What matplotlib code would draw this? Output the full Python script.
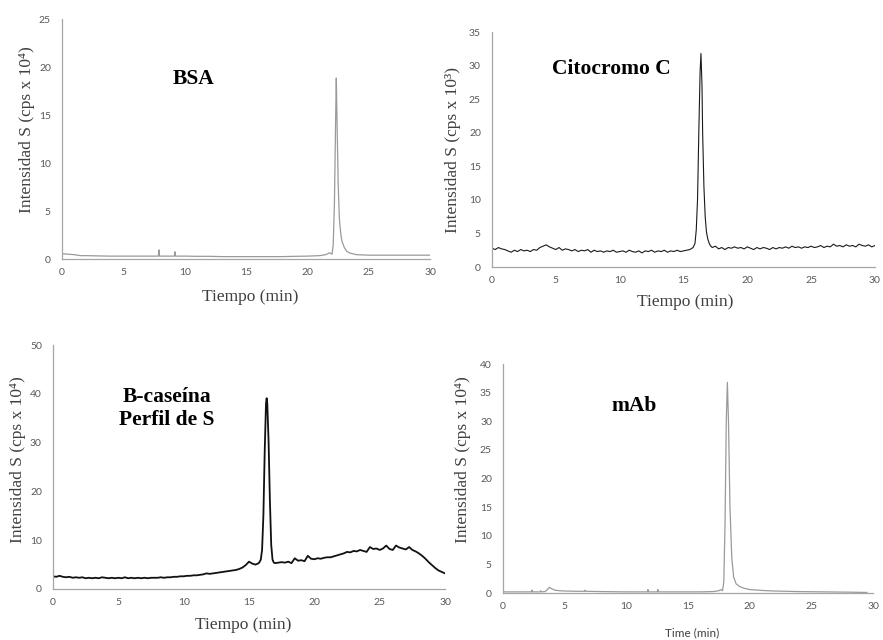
import numpy as np
import matplotlib.pyplot as plt

# BSA
bsa_t = [0, 0.5, 1.0, 1.5, 2, 3, 4, 5, 6, 7, 7.85, 7.9, 7.95, 8.5, 9.15, 9.2, 9.25,
         10, 11, 12, 13, 14, 15, 16, 17, 18, 19, 20, 21, 21.5, 21.8, 22.0, 22.1, 22.2,
         22.3, 22.35, 22.4, 22.5, 22.6, 22.7, 22.8, 23.0, 23.2, 23.5, 24, 25, 26, 28, 30]
bsa_y = [0.55, 0.5, 0.45, 0.35, 0.35, 0.32, 0.3, 0.3, 0.3, 0.3, 0.3, 0.95, 0.3, 0.3, 0.3, 0.75, 0.3,
         0.3, 0.28, 0.28, 0.25, 0.25, 0.25, 0.25, 0.25, 0.25, 0.28, 0.3, 0.35, 0.45, 0.65, 0.5, 1.5, 6,
         15, 18.85, 15, 8, 4.2, 2.8, 1.9, 1.2, 0.8, 0.6, 0.45, 0.4, 0.4, 0.4, 0.4]

# Citocromo C: baseline sampled every 0.25 min, peak points listed apart
cyto_pre = [2.8, 2.6, 2.9, 2.7, 2.6, 2.4, 2.2, 2.5, 2.3, 2.6, 2.4, 2.5, 2.3, 2.6, 2.5, 2.9,
            3.1, 3.3, 3.0, 2.8, 2.6, 2.9, 2.5, 2.7, 2.6, 2.4, 2.6, 2.3, 2.5, 2.4, 2.6, 2.2,
            2.5, 2.3, 2.4, 2.2, 2.4, 2.3, 2.5, 2.2, 2.3, 2.4, 2.2, 2.5, 2.3, 2.2, 2.4, 2.1,
            2.4, 2.3, 2.5, 2.2, 2.4, 2.3, 2.5, 2.2, 2.4, 2.3, 2.5, 2.3, 2.4, 2.5, 2.6, 2.9]
cyto_peak_t = [15.9, 16.0, 16.1, 16.2, 16.3, 16.37, 16.45, 16.5, 16.6, 16.7, 16.8, 16.9, 17.0, 17.1]
cyto_peak_y = [3.5, 5.5, 10, 20, 29, 31.8, 27, 20, 12, 7.5, 5.2, 4.2, 3.6, 3.2]
cyto_post = [2.9, 3.1, 2.7, 2.9, 2.6, 2.9, 2.8, 3.0, 2.8, 2.9, 2.7, 3.0, 2.8, 2.6, 2.9, 2.7,
             2.9, 2.8, 2.6, 2.9, 2.7, 2.9, 2.8, 3.0, 2.8, 3.1, 2.9, 3.0, 2.8, 3.0, 2.9, 3.1,
             2.9, 3.0, 3.2, 2.9, 3.1, 3.0, 3.4, 3.1, 3.2, 3.0, 3.3, 3.1, 3.2, 3.0, 3.4, 3.2,
             3.1, 3.3, 3.0, 3.2]

# B-caseina
cas_pre = [2.6, 2.5, 2.7, 2.5, 2.4, 2.5, 2.3, 2.4, 2.3, 2.4, 2.2, 2.3, 2.2, 2.3, 2.2, 2.4,
           2.3, 2.2, 2.3, 2.2, 2.3, 2.2, 2.4, 2.2, 2.3, 2.2, 2.3, 2.2, 2.3, 2.2, 2.3, 2.3,
           2.3, 2.4, 2.3, 2.4, 2.4, 2.5, 2.5, 2.6, 2.6, 2.7, 2.7, 2.8, 2.8, 2.9, 3.0, 3.2,
           3.1, 3.2, 3.3, 3.4, 3.5, 3.6, 3.7, 3.8, 3.9, 4.1, 4.4, 4.9, 5.6, 5.2, 5.0, 5.3]
cas_peak_t = [15.9, 16.0, 16.1, 16.2, 16.3, 16.35, 16.4, 16.5, 16.6, 16.7, 16.8, 16.9]
cas_peak_y = [6.0, 8, 15, 28, 38, 39.1, 38, 30, 18, 9, 6, 5.4]
cas_post = [5.3, 5.4, 5.5, 5.4, 5.6, 5.3, 6.3, 5.8, 5.9, 5.7, 6.8, 6.2, 6.1, 6.3, 6.2, 6.4,
            6.5, 6.5, 6.7, 6.9, 7.1, 7.3, 7.6, 7.5, 7.8, 7.7, 8.0, 7.8, 7.6, 8.6, 8.2, 8.3,
            8.0, 8.3, 8.9, 8.2, 8.0, 8.9, 8.5, 8.3, 8.1, 8.6, 8.0, 7.7, 7.3, 6.8, 6.2, 5.5,
            4.9, 4.3, 3.8, 3.5, 3.2]

# mAb
mab_t = [0, 1, 2, 2.3, 2.35, 2.4, 3.0, 3.05, 3.1, 3.4, 3.6, 3.75, 3.9, 4.2, 4.6, 5,
         6, 6.6, 6.65, 6.7, 8, 10, 11.7, 11.75, 11.8, 12.5, 12.55, 12.6, 14, 16,
         17.0, 17.5, 17.65, 17.8, 17.9, 18.0, 18.1, 18.19, 18.28, 18.4, 18.55, 18.7, 18.9, 19.2, 19.6,
         20, 21, 22, 24, 26, 28, 29.5]
mab_y = [0.2, 0.2, 0.2, 0.2, 0.5, 0.2, 0.2, 0.4, 0.2, 0.25, 0.6, 1.0, 0.8, 0.5, 0.4, 0.35,
         0.3, 0.3, 0.5, 0.3, 0.25, 0.2, 0.2, 0.6, 0.2, 0.2, 0.6, 0.2, 0.2, 0.2,
         0.25, 0.4, 0.6, 0.4, 2, 12, 30, 36.8, 30, 15, 6, 2.8, 1.6, 1.1, 0.8,
         0.6, 0.45, 0.35, 0.25, 0.2, 0.15, 0.1]

step = 0.25
cyto_t = np.concatenate([np.arange(len(cyto_pre)) * step, cyto_peak_t,
                         17.25 + np.arange(len(cyto_post)) * step])
cyto_y = np.concatenate([cyto_pre, cyto_peak_y, cyto_post])
cas_t = np.concatenate([np.arange(len(cas_pre)) * step, cas_peak_t,
                        17.0 + np.arange(len(cas_post)) * step])
cas_y = np.concatenate([cas_pre, cas_peak_y, cas_post])

serif = ['Liberation Serif', 'DejaVu Serif']
sans = ['Lato', 'DejaVu Sans']
label_col = '#404040'
tick_col = '#595959'
spine_col = '#a6a6a6'
lab_size = 12.5
title_size = 15.5

fig = plt.figure(figsize=(8.83, 6.4), dpi=100)


def style(ax, ymax, ystep):
    ax.set_xlim(0, 30)
    ax.set_ylim(0, ymax)
    ax.set_xticks(range(0, 31, 5))
    ax.set_yticks(range(0, ymax + 1, ystep))
    for s in ['top', 'right']:
        ax.spines[s].set_visible(False)
    for s in ['left', 'bottom']:
        ax.spines[s].set_color(spine_col)
        ax.spines[s].set_linewidth(0.9)
    ax.tick_params(length=0, pad=6.5, labelsize=7.5, colors=tick_col)
    ax.tick_params(axis='y', pad=8)
    for lab in ax.get_xticklabels() + ax.get_yticklabels():
        lab.set_family(sans)


def labels(ax, xl, yl, ylab, xpos, ypos, xfont=serif, xsize=lab_size):
    ax.text(xpos[0], xpos[1], xl, transform=ax.transAxes, ha='center', va='center',
            family=xfont, fontsize=xsize, color=label_col)
    ax.text(ypos[0], ypos[1], ylab, transform=ax.transAxes, ha='center', va='center',
            rotation=90, family=serif, fontsize=lab_size, color=label_col)


# BSA
ax1 = fig.add_axes([0.0702, 0.5953, 0.417, 0.375])
ax1.plot(bsa_t, bsa_y, color='#9a9a9a', lw=0.9)
style(ax1, 25, 5)
labels(ax1, 'Tiempo (min)', None, 'Intensidad S (cps x 10⁴)', (0.511, -0.158), (-0.095, 0.5375))
ax1.text(0.356, 0.75, 'BSA', transform=ax1.transAxes, ha='center', va='center',
         family=serif, fontsize=title_size, fontweight='bold')

# Citocromo C
ax2 = fig.add_axes([0.5572, 0.5828, 0.4337, 0.3672])
ax2.plot(cyto_t, cyto_y, color='#1a1a1a', lw=0.8)
style(ax2, 35, 5)
labels(ax2, 'Tiempo (min)', None, 'Intensidad S (cps x 10³)', (0.504, -0.149), (-0.102, 0.498))
ax2.text(0.313, 0.843, 'Citocromo C', transform=ax2.transAxes, ha='center', va='center',
         family=serif, fontsize=title_size, fontweight='bold')

# B-caseina
ax3 = fig.add_axes([0.060, 0.0797, 0.444, 0.3812])
ax3.plot(cas_t, cas_y, color='#111111', lw=1.3)
style(ax3, 50, 10)
labels(ax3, 'Tiempo (min)', None, 'Intensidad S (cps x 10⁴)', (0.485, -0.148), (-0.089, 0.529))
ax3.text(0.291, 0.74, 'B-caseína\nPerfil de S', transform=ax3.transAxes, ha='center',
         va='center', family=serif, fontsize=title_size, fontweight='bold', linespacing=1.25)

# mAb
ax4 = fig.add_axes([0.5697, 0.0734, 0.419, 0.3578])
ax4.plot(mab_t, mab_y, color='#9a9a9a', lw=0.9)
style(ax4, 40, 5)
labels(ax4, 'Time (min)', None, 'Intensidad S (cps x 10⁴)', (0.511, -0.175), (-0.108, 0.581),
       xfont=sans, xsize=8.5)
ax4.text(0.354, 0.817, 'mAb', transform=ax4.transAxes, ha='center', va='center',
         family=serif, fontsize=title_size, fontweight='bold')

fig.savefig('out.png', dpi=100, facecolor='white')
